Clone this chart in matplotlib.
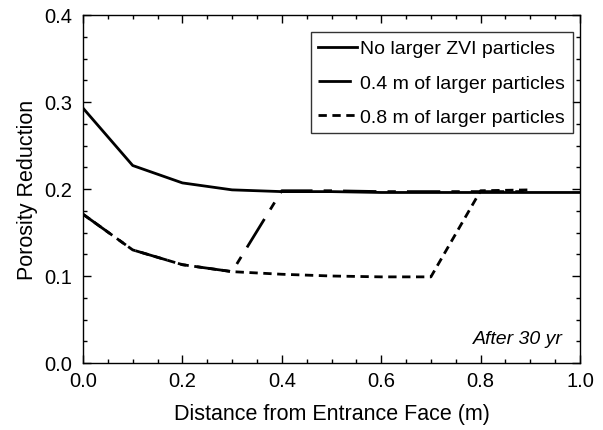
import matplotlib
matplotlib.use('Agg')
import matplotlib.pyplot as plt
from matplotlib.ticker import MultipleLocator

plt.rcParams['font.family'] = ['Liberation Sans', 'DejaVu Sans']

# Data
x_none = [0.0, 0.1, 0.2, 0.3, 0.4, 0.5, 0.6, 0.7, 0.8, 0.9, 1.0]
y_none = [0.293, 0.227, 0.207, 0.199, 0.197, 0.197, 0.196, 0.196, 0.196, 0.196, 0.196]

x_04 = [0.0, 0.1, 0.2, 0.3, 0.4, 0.5, 0.6, 0.7, 0.8, 0.9]
y_04 = [0.171, 0.130, 0.113, 0.105, 0.198, 0.198, 0.197, 0.197, 0.197, 0.197]

x_08 = [0.0, 0.1, 0.2, 0.3, 0.4, 0.5, 0.6, 0.7, 0.8, 0.9]
y_08 = [0.171, 0.130, 0.113, 0.105, 0.102, 0.100, 0.099, 0.099, 0.198, 0.199]

fig = plt.figure(figsize=(6.03, 4.31), dpi=100)
ax = fig.add_axes([83 / 603, 1 - 364 / 431, 497 / 603, 348 / 431])

ax.plot(x_08, y_08, color='black', lw=2, dashes=(3, 2), label='0.8 m of larger particles')
ax.plot(x_04, y_04, color='black', lw=2, dashes=(12, 4, 3, 4), label='0.4 m of larger particles')
ax.plot(x_none, y_none, color='black', lw=2, label='No larger ZVI particles')

ax.set_xlim(0, 1.0)
ax.set_ylim(0, 0.4)
ax.xaxis.set_major_locator(MultipleLocator(0.2))
ax.xaxis.set_minor_locator(MultipleLocator(0.05))
ax.yaxis.set_major_locator(MultipleLocator(0.1))
ax.yaxis.set_minor_locator(MultipleLocator(0.025))
ax.xaxis.set_major_formatter(plt.FuncFormatter(lambda v, p: f'{v:.1f}'))
ax.yaxis.set_major_formatter(plt.FuncFormatter(lambda v, p: f'{v:.1f}'))
ax.tick_params(which='both', direction='in', top=True, right=True, labelsize=14.5, width=1)
ax.tick_params(which='major', length=6)
ax.tick_params(which='minor', length=3)
ax.tick_params(axis='x', pad=6)
ax.tick_params(axis='y', pad=8)
for s in ax.spines.values():
    s.set_linewidth(1)

ax.set_xlabel('Distance from Entrance Face (m)', fontsize=15.5, labelpad=9)
ax.set_ylabel('Porosity Reduction', fontsize=15.5, labelpad=4)

handles, labels = ax.get_legend_handles_labels()
order = [2, 1, 0]
leg = ax.legend([handles[i] for i in order], [labels[i] for i in order],
                loc='upper right', bbox_to_anchor=(1.005, 0.979), fontsize=14,
                frameon=True, fancybox=False, edgecolor='black', handlelength=2.0,
                handletextpad=0.15, borderpad=0.4, labelspacing=0.85)
leg.get_frame().set_linewidth(1)

ax.text(0.965, 0.045, 'After 30 yr', transform=ax.transAxes, ha='right', va='bottom',
        fontsize=14, style='italic')

fig.savefig('out.png', dpi=100, facecolor='white')
